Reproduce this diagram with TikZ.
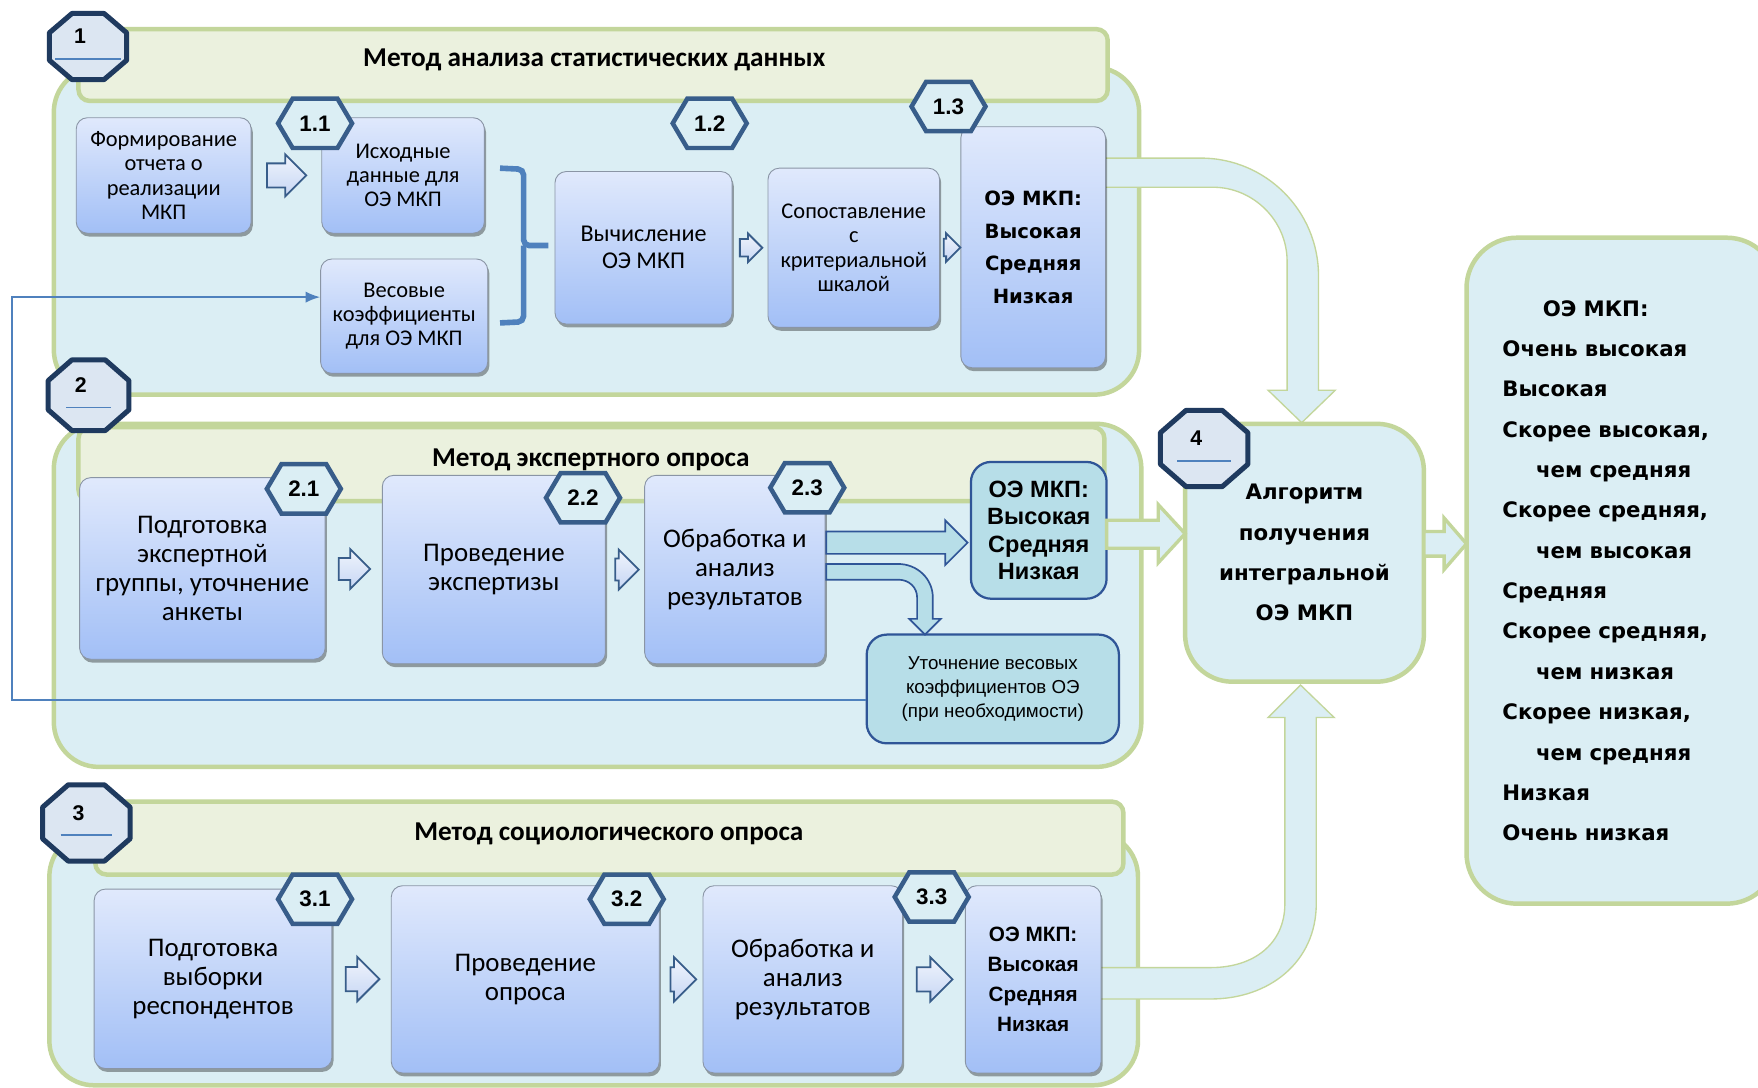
\documentclass[tikz,border=0pt]{standalone}
\usepackage{fontspec}
\setmainfont{Carlito}
\newfontfamily\dvsfont{DejaVu Sans}
\newfontfamily\libfont{Liberation Sans}
\usetikzlibrary{shapes.arrows,shadows,calc,arrows.meta}

\definecolor{panel}{HTML}{DBEEF4}
\definecolor{pborder}{HTML}{C3D69B}
\definecolor{hfill}{HTML}{EBF1DE}
\definecolor{navy}{HTML}{1F3A5F}
\definecolor{hexb}{HTML}{385D8A}
\definecolor{lblue}{HTML}{4F81BD}
\definecolor{btop}{HTML}{E0E9FC}
\definecolor{bbot}{HTML}{A2BFF6}
\definecolor{tealf}{HTML}{B7DEE8}
\definecolor{octf}{HTML}{DCE6F2}
\definecolor{bgray}{HTML}{8A95A5}
\definecolor{atop}{HTML}{F0F4FC}
\definecolor{abot}{HTML}{C6D6F4}
\definecolor{tealb}{HTML}{2F5597}

\tikzset{
  panelst/.style={draw=pborder,line width=4pt,fill=panel,rounded corners=40pt},
  headst/.style={draw=pborder,line width=4pt,fill=hfill,rounded corners=10pt},
  gbox/.style={draw=bgray,line width=0.8pt,top color=btop,bottom color=bbot,
    rounded corners=10pt,
    drop shadow={shadow xshift=1.5pt,shadow yshift=-3pt,opacity=0.35,fill=black},
    align=center,inner sep=2pt},
  tealbox/.style={draw=tealb,line width=2pt,fill=tealf,rounded corners=18pt,align=center,inner sep=2pt},
  greenbox/.style={draw=pborder,line width=4pt,fill=panel,rounded corners=42pt,inner sep=2pt},
  fone/.style={font={\fontsize{20}{21.5}\selectfont}},
  fvych/.style={font={\fontsize{21.5}{24}\selectfont}},
  ftwo/.style={font={\fontsize{24}{26}\selectfont}},
  title/.style={font={\bfseries\fontsize{24.3}{27}\selectfont},inner sep=0pt},
  foea/.style={font={\dvsfont\bfseries\fontsize{17.5}{29}\selectfont}},
  foeb/.style={font={\libfont\bfseries\fontsize{21}{24.5}\selectfont}},
  foec/.style={font={\libfont\bfseries\fontsize{18.5}{26.5}\selectfont}},
  fut/.style={font={\libfont\fontsize{16.7}{21.5}\selectfont}},
  fbig/.style={font={\dvsfont\bfseries\fontsize{19}{36}\selectfont}},
  octst/.style={draw=navy,line width=4.5pt,fill=octf,line join=round},
  hexst/.style={draw=hexb,line width=4pt,fill=panel,line join=miter},
  hexnum/.style={font={\libfont\bfseries\fontsize{20}{22}\selectfont},inner sep=0pt},
  octnum/.style={font={\libfont\bfseries\fontsize{19}{20}\selectfont},inner sep=0pt},
  bigarr/.style={draw=pborder,line width=1.2pt,fill=panel},
  bigarrb/.style={draw=pborder,line width=3pt,fill=panel,line join=miter},
  tealarr/.style={draw=tealb,line width=1.5pt,fill=tealf},
  fbline/.style={draw=lblue,line width=1.6pt},
  smallarr/.style n args={4}{single arrow,draw=hexb,line width=1.6pt,
    top color=atop,bottom color=abot,minimum height=#1,minimum width=#2,
    single arrow head extend=#3,single arrow head indent=0pt,inner xsep=0pt,inner ysep=#4,
    single arrow tip angle=90,xshift={-0.15*#1}},
}

% octagon badge: name, cx, cy, half width, half height, label, line half width
\newcommand\octbadge[7]{%
  \draw[octst] ({#2-#4},{#3-0.414*#5}) -- ({#2-0.414*#4},{#3-#5}) -- ({#2+0.414*#4},{#3-#5})
    -- ({#2+#4},{#3-0.414*#5}) -- ({#2+#4},{#3+0.414*#5}) -- ({#2+0.414*#4},{#3+#5})
    -- ({#2-0.414*#4},{#3+#5}) -- ({#2-#4},{#3+0.414*#5}) -- cycle;
  \draw[lblue,line width=1.6pt] ({#2-#7},{#3+11}) -- ({#2+#7},{#3+11});
  \node[octnum] (#1) at ({#2-7},{#3-9}) {#6};
}
% hexagon badge: name, cx, cy, label
\newcommand\hexbadge[4]{%
  \draw[hexst] ({#2-33},#3) -- ({#2-20},{#3-22}) -- ({#2+20},{#3-22}) -- ({#2+33},#3)
    -- ({#2+20},{#3+22}) -- ({#2-20},{#3+22}) -- cycle;
  \node[hexnum] (#1) at (#2,#3) {#4};
}

\begin{document}
\begin{tikzpicture}[x=1pt,y=-1pt]
\fill[white] (0,0) rectangle (1568,970);
\useasboundingbox (0,0) rectangle (1568,970);
\clip (0,0) rectangle (1568,970);

% ---------- panels ----------
\draw[panelst] (48,60) rectangle (1016,352);
\draw[headst] (70,26) rectangle (988,90);
\draw[panelst] (48,378) rectangle (1018,684);
\draw[headst] (70,381) rectangle (985,447);
\draw[panelst] (44,742) rectangle (1015,968);
\draw[headst] (85,715) rectangle (1002,780);

\node[title] (t1) at (530,53) {Метод анализа статистических данных};
\node[title] (t2) at (527,410) {Метод экспертного опроса};
\node[title] (t3) at (543,744) {Метод социологического опроса};

% ---------- big light arrows into box 4 ----------
\draw[bigarr] (980,141) -- (1071,141) .. controls (1129,141) and (1176,188) .. (1176,246)
  -- (1176,348) -- (1191,348) -- (1161,377) -- (1131,348) -- (1148,348) -- (1148,233)
  .. controls (1148,197) and (1118,167) .. (1082,167) -- (980,167) -- cycle;
\draw[bigarr] (976,863) -- (1080,863) .. controls (1118,863) and (1146,842) .. (1146,806)
  -- (1146,640) -- (1131,640) -- (1160,611) -- (1190,640) -- (1174,640) -- (1174,806)
  .. controls (1174,858) and (1132,891) .. (1080,891) -- (976,891) -- cycle;

% ---------- section 1 ----------
\node[gbox,fone,minimum width=156,minimum height=103] (form) at (146,156.5)
  {Формирование\\отчета о\\реализации\\МКП};
\node[gbox,fone,minimum width=145,minimum height=103] (isx) at (359.5,156.5)
  {Исходные\\данные для\\ОЭ МКП};
\node[gbox,fone,minimum width=149,minimum height=102] (ves) at (360.5,282)
  {Весовые\\коэффициенты\\для ОЭ МКП};
\node[gbox,fvych,minimum width=158,minimum height=136] (vych) at (574,221)
  {Вычисление\\ОЭ МКП};
\node[gbox,fone,minimum width=153,minimum height=142] (sop) at (761.5,221)
  {Сопоставление\\с\\критериальной\\шкалой};
\node[gbox,foea,minimum width=129,minimum height=215] (oea) at (921.5,220.5)
  {ОЭ МКП:\\Высокая\\Средняя\\Низкая};

\node[smallarr={35}{36}{8}{10pt}] (a1) at ($(form.east)!0.5!(isx.west)$) {};
\node[smallarr={20}{24}{5}{7pt}] (a2) at ($(vych.east)!0.5!(sop.west)$) {};
\node[smallarr={15}{24}{5}{7pt}] (a3) at ($(sop.east)!0.5!(oea.west)$) {};

% bracket
\draw[lblue,line width=5pt,rounded corners=5pt] (446,150) -- (467,151) -- (467,219) -- (489,219);
\draw[lblue,line width=5pt,rounded corners=5pt] (446,288) -- (467,287) -- (467,219);

% ---------- section 2 ----------
\node[gbox,ftwo,minimum width=219,minimum height=162] (gta) at (180.5,507)
  {Подготовка\\экспертной\\группы, уточнение\\анкеты};
\node[gbox,ftwo,minimum width=199,minimum height=168] (gtb) at (440.5,508)
  {Проведение\\экспертизы};
\node[gbox,ftwo,minimum width=161,minimum height=168] (gtc) at (655.5,508)
  {Обработка и\\анализ\\результатов};
\node[tealbox,foeb,minimum width=121,minimum height=122] (oeb) at (926.5,473)
  {ОЭ МКП:\\Высокая\\Средняя\\Низкая};
\node[tealbox,fut,minimum width=225,minimum height=97] (ut) at (885.5,614.5)
  {Уточнение весовых\\коэффициентов ОЭ\\(при необходимости)};

\node[smallarr={28}{34}{8}{9pt}] (b1) at ($(gta.east)!0.5!(gtb.west)$) {};
\node[smallarr={21}{34}{8}{9pt}] (b2) at ($(gtb.east)!0.5!(gtc.west)$) {};

\draw[tealarr] (737,474) -- (843,474) -- (843,464) -- (863,484) -- (843,504) -- (843,494) -- (737,494) -- cycle;
\draw[tealarr] (737,503) -- (801,503) .. controls (818,503) and (832,516) .. (832,533) -- (832,552)
  -- (839,552) -- (825,566) -- (811,552) -- (818,552) -- (818,533)
  .. controls (818,524) and (811,517) .. (801,517) -- (737,517) -- cycle;

% ---------- section 3 ----------
\node[gbox,ftwo,minimum width=212,minimum height=160] (gsa) at (190,873)
  {Подготовка\\выборки\\респондентов};
\node[gbox,ftwo,minimum width=239,minimum height=167] (gsb) at (468.5,873.5)
  {Проведение\\опроса};
\node[gbox,ftwo,minimum width=178,minimum height=167] (gsc) at (716,873.5)
  {Обработка и\\анализ\\результатов};
\node[gbox,foec,minimum width=121,minimum height=167] (oec) at (921.5,873.5)
  {ОЭ МКП:\\Высокая\\Средняя\\Низкая};

\node[smallarr={30}{38}{9}{10pt}] (c1) at ($(gsa.east)!0.5!(gsb.west)$) {};
\node[smallarr={23}{38}{9}{10pt}] (c2) at ($(gsb.east)!0.5!(gsc.west)$) {};
\node[smallarr={32}{38}{9}{10pt}] (c3) at ($(gsc.east)!0.5!(oec.west)$) {};

% ---------- box 4 and result ----------
\node[greenbox,fbig,align=center,minimum width=213,minimum height=230] (alg) at (1163.5,493)
  {Алгоритм\\получения\\интегральной\\ОЭ МКП};
\node[greenbox,fbig,rounded corners=45pt,minimum width=277,minimum height=594,
  text width=213,inner xsep=32pt,align=left] (res) at (1446.5,509)
  {\hspace*{36pt}ОЭ МКП:\\Очень высокая\\Высокая\\Скорее высокая,\\\hspace*{30pt}чем средняя\\
   Скорее средняя,\\\hspace*{30pt}чем высокая\\Средняя\\Скорее средняя,\\\hspace*{30pt}чем низкая\\
   Скорее низкая,\\\hspace*{30pt}чем средняя\\Низкая\\Очень низкая};

\draw[bigarrb] (987,464) -- (1033,464) -- (1033,450) -- (1057,476) -- (1033,502) -- (1033,489) -- (987,489) -- cycle;
\draw[bigarrb] (1270,474) -- (1288,474) -- (1288,462) -- (1308,485) -- (1288,508) -- (1288,496) -- (1270,496) -- cycle;

% ---------- feedback line ----------
\coordinate (lx) at (11,0);
\coordinate (utp) at ([yshift=-10pt]ut.west);
\coordinate (vesp) at ([yshift=17pt]ves.west);
\draw[fbline,-{Latex[length=13pt,width=10pt]}] (utp) -- (utp -| lx) |- (vesp);

% ---------- badges ----------
\octbadge{o1}{78.5}{41.5}{34.5}{29.5}{1}{29}
\octbadge{o2}{79}{352.5}{36}{31.5}{2}{20}
\octbadge{o3}{77}{734}{39}{34}{3}{23}
\octbadge{o4}{1074}{400}{39}{34}{4}{24}

\hexbadge{h11}{281}{110}{1.1}
\hexbadge{h12}{633}{110}{1.2}
\hexbadge{h13}{846}{95}{1.3}
\hexbadge{h21}{271}{436}{2.1}
\hexbadge{h22}{520}{444}{2.2}
\hexbadge{h23}{720}{435}{2.3}
\hexbadge{h31}{281}{802}{3.1}
\hexbadge{h32}{559}{802}{3.2}
\hexbadge{h33}{831}{800}{3.3}
\end{tikzpicture}
\end{document}
